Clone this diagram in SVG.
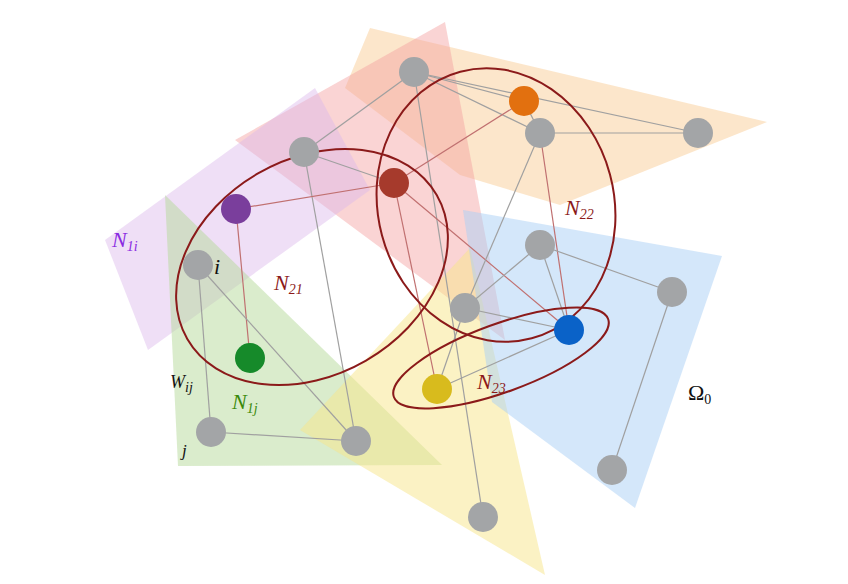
<svg xmlns="http://www.w3.org/2000/svg" width="848" height="584" viewBox="0 0 848 584">
<style>
.e{stroke:#a0a0a0;stroke-width:1.2;fill:none}
.r{stroke:#c07070;stroke-width:1.2;fill:none}
.n{stroke:#888;stroke-width:0.8}
.g{fill:#a3a5a7}
.el{fill:none;stroke:#8b1a1a;stroke-width:2}
.t{font-family:"Liberation Serif",serif;font-style:italic;font-size:22px}
.s{font-size:14px}
</style>
<rect width="848" height="584" fill="#fff"/>
<g id="regions">
<polygon points="345,88 370,28 767,122 560,205 460,175" fill="#f9c78c" opacity="0.45"/>
<polygon points="235,140 445,22 505,340" fill="#f4a0a0" opacity="0.45"/>
<polygon points="105,240 315,88 370,190 148,350" fill="#dcb8ec" opacity="0.45"/>
<polygon points="165,195 442,465 178,466" fill="#b5d99a" opacity="0.5"/>
<polygon points="300,430 470,248 545,575" fill="#f8e58a" opacity="0.5"/>
<polygon points="463,210 722,256 635,508 492,402" fill="#a9cff5" opacity="0.5"/>
</g>
<g id="connectors">
<line class="e" x1="414" y1="72" x2="524" y2="101"/>
<line class="e" x1="414" y1="72" x2="698" y2="133"/>
<line class="e" x1="414" y1="72" x2="540" y2="133"/>
<line class="e" x1="524" y1="101" x2="540" y2="133"/>
<line class="e" x1="540" y1="133" x2="698" y2="133"/>
<line class="e" x1="414" y1="72" x2="304" y2="152"/>
<line class="e" x1="414" y1="72" x2="483" y2="517"/>
<line class="e" x1="304" y1="152" x2="356" y2="441"/>
<line class="e" x1="304" y1="152" x2="394" y2="183"/>
<line class="r" x1="394" y1="183" x2="524" y2="101"/>
<line class="r" x1="394" y1="183" x2="236" y2="209"/>
<line class="r" x1="236" y1="209" x2="250" y2="358"/>
<line class="r" x1="394" y1="183" x2="437" y2="389"/>
<line class="r" x1="394" y1="183" x2="569" y2="330"/>
<line class="r" x1="540" y1="133" x2="569" y2="330"/>
<line class="e" x1="540" y1="133" x2="465" y2="308"/>
<line class="e" x1="540" y1="245" x2="465" y2="308"/>
<line class="e" x1="540" y1="245" x2="672" y2="292"/>
<line class="e" x1="540" y1="245" x2="569" y2="330"/>
<line class="e" x1="672" y1="292" x2="612" y2="470"/>
<line class="e" x1="465" y1="308" x2="569" y2="330"/>
<line class="e" x1="465" y1="308" x2="437" y2="389"/>
<line class="e" x1="569" y1="330" x2="437" y2="389"/>
<line class="e" x1="198" y1="265" x2="211" y2="432"/>
<line class="e" x1="198" y1="265" x2="356" y2="441"/>
<line class="e" x1="211" y1="432" x2="356" y2="441"/>
</g>
<g id="ellipses">
<ellipse class="el" cx="312" cy="267" rx="144" ry="108" transform="rotate(-30 312 267)"/>
<ellipse class="el" cx="496" cy="205" rx="118" ry="138" transform="rotate(-15 496 205)"/>
<ellipse class="el" cx="501" cy="358" rx="114" ry="34" transform="rotate(-20 501 358)"/>
</g>
<g id="nodes">
<circle id="nA" class="g" cx="414" cy="72" r="15"/>
<circle id="nO" cx="524" cy="101" r="15" fill="#e2700f"/>
<circle id="nB" class="g" cx="540" cy="133" r="15"/>
<circle id="nC" class="g" cx="698" cy="133" r="15"/>
<circle id="nD" class="g" cx="304" cy="152" r="15"/>
<circle id="nR" cx="394" cy="183" r="15" fill="#a63a2c"/>
<circle id="nP" cx="236" cy="209" r="15" fill="#7a3e9c"/>
<circle id="ni" class="g" cx="198" cy="265" r="15"/>
<circle id="nE" class="g" cx="540" cy="245" r="15"/>
<circle id="nF" class="g" cx="672" cy="292" r="15"/>
<circle id="nG" class="g" cx="465" cy="308" r="15"/>
<circle id="nBl" cx="569" cy="330" r="15" fill="#0a62c8"/>
<circle id="nGr" cx="250" cy="358" r="15" fill="#168a2a"/>
<circle id="nY" cx="437" cy="389" r="15" fill="#d8bb1d"/>
<circle id="nj" class="g" cx="211" cy="432" r="15"/>
<circle id="nH" class="g" cx="356" cy="441" r="15"/>
<circle id="nK" class="g" cx="483" cy="517" r="15"/>
<circle id="nL" class="g" cx="612" cy="470" r="15"/>
</g>
<g id="labels">
<text class="t" x="112" y="247" fill="#8a2be2">N<tspan class="s" dy="4">1i</tspan></text>
<text class="t" x="214" y="274" fill="#111">i</text>
<text class="t" x="274" y="290" fill="#8b1a1a">N<tspan class="s" dy="4">21</tspan></text>
<text class="t" x="565" y="215" fill="#8b1a1a">N<tspan class="s" dy="4">22</tspan></text>
<text class="t" x="477" y="389" fill="#8b1a1a">N<tspan class="s" dy="4">23</tspan></text>
<text class="t" x="170" y="388" fill="#111" style="font-size:18px">W<tspan class="s" dy="4">ij</tspan></text>
<text class="t" x="232" y="409" fill="#3a8a0a">N<tspan class="s" dy="4">1j</tspan></text>
<text class="t" x="182" y="456" fill="#111" style="font-size:17px">j</text>
<text x="688" y="400" fill="#111" style="font-family:'Liberation Serif',serif;font-size:22px">Ω<tspan class="s" dy="4">0</tspan></text>
</g>
</svg>
